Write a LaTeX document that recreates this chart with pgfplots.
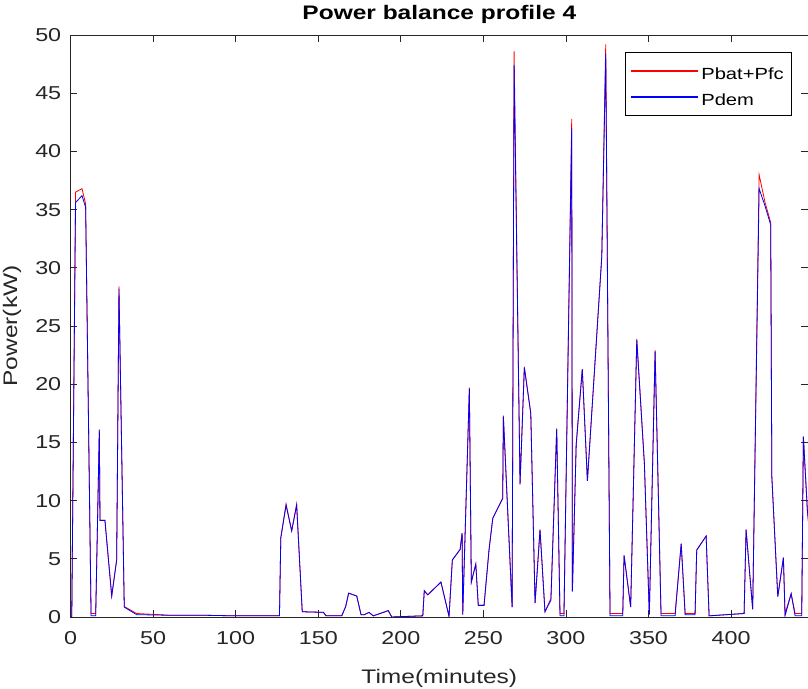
\documentclass[border=0pt]{standalone}
\usepackage{fontspec}
\setmainfont{Liberation Sans}[FakeStretch=1.25]
\usepackage{pgfplots}
\pgfplotsset{compat=1.18}
\definecolor{axgray}{gray}{0.15}

\pgfplotstableread{
x y
0 0
0.7 0
3.0 35.6
6.9 36.2
9.1 35.2
12.4 0.1
15.2 0.1
17.4 16.1
17.8 8.3
20.8 8.3
24.9 1.8
27.9 4.9
29.3 28.2
32.5 0.85
40.0 0.2
60 0.15
80 0.15
100 0.1
120 0.1
126.5 0.1
127.3 6.8
130.5 9.6
133.9 7.4
136.9 9.6
140.3 0.45
153.1 0.4
154.7 0.1
164.2 0.1
166.6 0.9
168.4 2.05
173.3 1.8
175.9 0.2
178 0.2
180.7 0.4
183.3 0.1
187.4 0.3
192.4 0.55
194.5 0.0
213.3 0.1
214.2 2.26
216.3 1.9
224.3 3.0
229.2 0.05
231.2 4.9
235.9 5.8
237.1 7.2
237.5 0.2
241.5 19.6
242.7 3.0
245.4 4.55
246.9 1.0
250.4 1.0
253.4 5.75
255.7 8.5
261.7 10.2
262.1 17.2
267.4 0.85
268.6 47.4
272.2 11.4
274.8 21.4
278.7 17.5
281.3 1.2
284.3 7.5
287.3 0.45
290.9 1.45
294.4 16.15
296.4 0.1
298.8 0.1
303.5 42.0
303.9 2.2
306.2 14.8
309.9 21.3
313.0 11.7
321.7 30.95
324.1 48.4
326.7 0.1
334.4 0.1
335.2 5.3
339.2 0.85
342.9 23.8
347.5 13.2
350.5 0.2
354.0 22.8
357.6 0.1
366.1 0.1
369.8 6.3
372.2 0.2
378.2 0.2
379.2 5.75
384.9 6.95
386.7 0.1
407.9 0.3
409.1 7.5
413.1 0.65
417.0 36.8
420.6 35.3
424.0 33.7
424.7 12.05
428.3 1.75
431.7 5.1
432.7 0.1
436.4 2.0
438.8 0.1
442.8 0.1
443.8 15.5
446.2 9.2
447 8
}\pdem

\pgfplotstableread{
x y
0 0
0.7 0
3.0 36.5
6.9 36.8
9.1 35.5
12.4 0.3
15.2 0.3
17.4 16.1
17.8 8.3
20.8 8.3
24.9 1.8
27.9 4.9
29.3 28.4
32.5 0.9
40.0 0.3
60 0.15
80 0.15
100 0.1
120 0.1
126.5 0.1
127.3 6.8
130.5 9.7
133.9 7.4
136.9 9.7
140.3 0.45
153.1 0.4
154.7 0.1
164.2 0.1
166.6 0.9
168.4 2.05
173.3 1.8
175.9 0.2
178 0.2
180.7 0.4
183.3 0.1
187.4 0.3
192.4 0.55
194.5 0.0
213.3 0.1
214.2 2.26
216.3 1.9
224.3 3.0
229.2 0.05
231.2 4.9
235.9 5.8
237.1 7.2
237.5 0.2
241.5 19.7
242.7 3.0
245.4 4.55
246.9 1.0
250.4 1.0
253.4 5.75
255.7 8.5
261.7 10.2
262.1 17.3
267.4 0.85
268.6 48.6
272.2 11.4
274.8 21.5
278.7 17.5
281.3 1.2
284.3 7.5
287.3 0.45
290.9 1.6
294.4 16.2
296.4 0.3
298.8 0.3
303.5 42.8
303.9 2.2
306.2 14.8
309.9 21.3
313.0 11.7
321.7 30.95
324.1 49.2
326.7 0.3
334.4 0.3
335.2 5.3
339.2 0.85
342.9 23.9
347.5 13.2
350.5 0.2
354.0 22.9
357.6 0.3
366.1 0.3
369.8 6.3
372.2 0.3
378.2 0.3
379.2 5.75
384.9 6.95
386.7 0.1
407.9 0.3
409.1 7.5
413.1 0.65
417.0 38.0
420.6 35.6
424.0 33.9
424.7 12.05
428.3 1.75
431.7 5.1
432.7 0.3
436.4 2.0
438.8 0.3
442.8 0.3
443.8 15.5
446.2 9.2
447 8
}\pbat

\begin{document}
\begin{tikzpicture}
\begin{axis}[
  scale only axis,
  width=553.05pt, height=436.5pt,
  xmin=0, xmax=446.6,
  ymin=0, ymax=50,
  xtick={0,50,...,400},
  ytick={0,5,...,50},
  tick align=inside,
  major tick length=5pt,
  axis line style={axgray, line width=0.6pt},
  every tick/.style={axgray, line width=0.6pt},
  tick label style={font=\fontsize{14}{16}\selectfont, text=axgray},
  /pgf/number format/assume math mode=true,
  yticklabel style={xshift=-3.5pt},
  xticklabel style={yshift=-7pt},
  title={\bfseries Power balance profile 4},
  title style={font=\fontsize{14.7}{17}\selectfont, at={(0.5,1)}, anchor=center, yshift=9.75pt},
  xlabel={Time(minutes)},
  ylabel={Power(kW)},
  label style={font=\fontsize{14.7}{17}\selectfont, text=axgray},
  xlabel style={at={(axis description cs:0.5,0)}, anchor=center, yshift=-46pt},
  ylabel style={at={(axis description cs:0,0.5)}, anchor=center, yshift=44pt},
  legend style={at={(1,1)}, anchor=north east, xshift=-12pt, yshift=-13pt,
    font=\fontsize{12.1}{15}\selectfont,
    inner xsep=4pt, inner ysep=4pt},
  legend cell align=left,
  legend image code/.code={\draw[#1] (0pt,0pt) -- (50pt,0pt);},
  legend entries={Pbat+Pfc\rule[-6pt]{0pt}{20pt}, Pdem\rule[-6pt]{0pt}{20pt}},
  clip=true,
]
\addlegendimage{draw=red, line width=0.9pt}
\addlegendimage{draw=blue, line width=0.9pt}
\addplot[red, line width=0.6pt, forget plot] table {\pbat};
\addplot[blue, line width=0.6pt, forget plot] table {\pdem};
\end{axis}
\pgfresetboundingbox
\useasboundingbox (-52.95pt,-54pt) rectangle (553.05pt,462.75pt);
\end{tikzpicture}
\end{document}
